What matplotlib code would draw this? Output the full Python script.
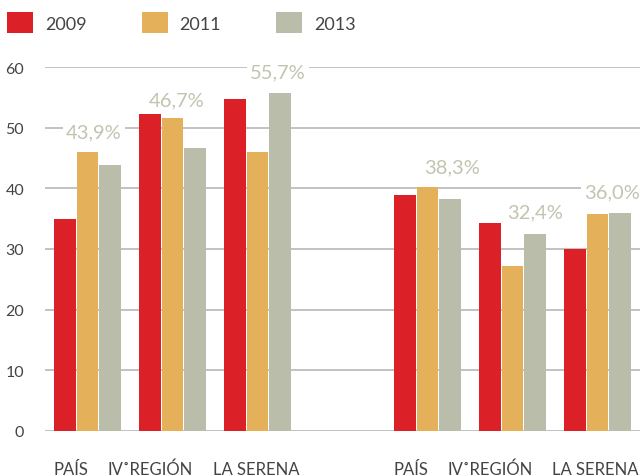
import matplotlib
matplotlib.use("Agg")
import matplotlib.pyplot as plt
from matplotlib.patches import Patch

plt.rcParams['font.family'] = ['Lato', 'DejaVu Sans']

categories = ["PAÍS", "IV˚REGIÓN", "LA SERENA", "PAÍS", "IV˚REGIÓN", "LA SERENA"]
years = ["2009", "2011", "2013"]
v2009 = [35.0, 52.2, 54.7, 38.9, 34.3, 30.0]
v2011 = [46.0, 51.6, 46.0, 40.2, 27.2, 35.8]
v2013 = [43.9, 46.7, 55.7, 38.3, 32.4, 36.0]
yticks = [0, 10, 20, 30, 40, 50, 60]

colors = ["#DB2028", "#E5B05A", "#BABDA9"]
label_color = "#C2C4B0"
text_color = "#444444"

# positions (with empty slot between the two halves)
group_pos = [0, 1, 2, 4, 5, 6]
# style offsets (pixels) for value labels and category labels
val_dx = [-16, -18, -2, 2, 0, -8]
val_dy = [33, 48, 21, 32, 23, 21]
cat_dx = [-17, -22, -1, -17, -22, -2]

W, H = 641, 477
fig = plt.figure(figsize=(W / 100, H / 100), dpi=100)
ax = fig.add_axes([45 / W, 45 / H, 595 / W, 364 / H])

bw = 0.253
off = 0.265
series = [v2009, v2011, v2013]
for i, (vals, c) in enumerate(zip(series, colors)):
    xs = [p + (i - 1) * off for p in group_pos]
    ax.bar(xs, vals, width=bw, color=c, zorder=3, linewidth=0)

ax.set_xlim(-0.5, 6.5)
ax.set_ylim(0, 60)
ax.set_yticks(yticks)
ax.set_yticklabels([str(t) for t in yticks], fontsize=11.5, color=text_color)
ax.tick_params(axis='y', length=0, pad=15)
ax.set_xticks([])
ax.yaxis.grid(True, color="#bdbdbd", linewidth=1.3, zorder=0)
ax.set_axisbelow(True)
for s in ax.spines.values():
    s.set_visible(False)

# value labels on 2013 bars
for p, v, dx, dy in zip(group_pos, v2013, val_dx, val_dy):
    ax.annotate(f"{v:.1f}%".replace(".", ","), xy=(p + off, v), xytext=(dx, dy),
                textcoords='offset pixels', ha='center', va='center',
                fontsize=14.5, color=label_color, zorder=5, annotation_clip=False,
                bbox=dict(boxstyle='square,pad=0.15', fc='white', ec='none'))

# category labels
for p, lab, dx in zip(group_pos, categories, cat_dx):
    ax.annotate(lab, xy=(p, 0), xytext=(dx, -38), textcoords='offset pixels',
                ha='center', va='center', fontsize=12, color=text_color,
                annotation_clip=False)

handles = [Patch(facecolor=c, edgecolor='none') for c in colors]
fig.legend(handles, years, loc='upper left', bbox_to_anchor=(7 / W, 1 - 13 / H),
           ncol=3, frameon=False, fontsize=13, borderpad=0, borderaxespad=0,
           handlelength=1.44, handleheight=1.44, handletextpad=0.66,
           columnspacing=3.05, labelcolor=text_color)

fig.savefig("out.png", dpi=100)
